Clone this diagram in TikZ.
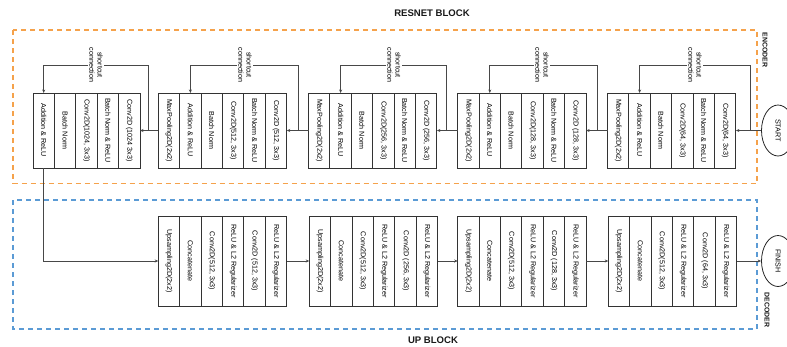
\documentclass[tikz,border=0pt]{standalone}
\usepackage{fontspec}
\usepackage{graphicx}
\setmainfont{Liberation Sans}
\usetikzlibrary{arrows.meta,positioning,shapes.geometric}
\definecolor{encorange}{HTML}{F5A24B}
\definecolor{decblue}{HTML}{5B9BD5}
\definecolor{cellline}{HTML}{333333}
\definecolor{connline}{HTML}{484848}
\newcommand\vtext[1]{\rotatebox{-90}{#1}}
\begin{document}
\begin{tikzpicture}[x=1bp,y=-1bp,
  cellbase/.style={draw=cellline, line width=1bp, inner sep=0pt, outer sep=0pt,
    minimum width=21.4bp, font=\fontsize{7.2}{8.2}\selectfont, text=black},
  ecell/.style={cellbase, minimum height=75bp},
  dcell/.style={cellbase, minimum height=90bp},
  conn/.style={draw=connline, line width=0.75bp},
  arr/.style={conn, -{Stealth[length=3.5bp,width=3bp]}},
  sclabel/.style={inner sep=1.2bp, font=\fontsize{7.2}{8.2}\selectfont, text=black},
  terminal/.style={ellipse, draw=black!85, line width=0.8bp, minimum width=33bp,
    minimum height=51bp, inner sep=0pt, font=\fontsize{7.2}{8.2}\selectfont},
  groupbox/.style={dashed, dash pattern=on 5bp off 4bp, line width=1.1bp},
  title/.style={font=\bfseries\fontsize{9.6}{11}\selectfont, text=black!90},
  sidetitle/.style={font=\bfseries\fontsize{7}{8}\selectfont, text=black!90}]
\useasboundingbox (0,0) rectangle (787,346);

% group frames
\draw[groupbox, draw=encorange] (13,30) rectangle (757,183.3);
\draw[groupbox, draw=decblue] (13,200) rectangle (757,329);
\node[title] (resnet) at (432,13) {RESNET BLOCK};
\node[title] (upblock) at (433,340) {UP BLOCK};
\node[sidetitle] (enc) at (765,50) {\vtext{ENCODER}};
\node[sidetitle] (dec) at (767,310) {\vtext{DECODER}};

% ---------------- encoder ----------------
% block 1
\node[ecell] (e1a) at (43.7,130.5) {\vtext{Addition \& ReLU}};
\node[ecell, right=0pt of e1a] (e1b) {\vtext{Batch Norm}};
\node[ecell, right=0pt of e1b] (e1c) {\vtext{Conv2D(1024, 3x3)}};
\node[ecell, right=0pt of e1c] (e1d) {\vtext{Batch Norm \& ReLU}};
\node[ecell, right=0pt of e1d] (e1e) {\vtext{Conv2D (1024 3x3)}};
% block 2
\node[ecell] (e2a) at (169,130.5) {\vtext{MaxPooling2D(2x2)}};
\node[ecell, right=0pt of e2a] (e2b) {\vtext{Addition \& ReLU}};
\node[ecell, right=0pt of e2b] (e2c) {\vtext{Batch Norm}};
\node[ecell, right=0pt of e2c] (e2d) {\vtext{Conv2D(512, 3x3)}};
\node[ecell, right=0pt of e2d] (e2e) {\vtext{Batch Norm \& ReLU}};
\node[ecell, right=0pt of e2e] (e2f) {\vtext{Conv2D (512, 3x3)}};
% block 3
\node[ecell] (e3a) at (319.2,130.5) {\vtext{MaxPooling2D(2x2)}};
\node[ecell, right=0pt of e3a] (e3b) {\vtext{Addition \& ReLU}};
\node[ecell, right=0pt of e3b] (e3c) {\vtext{Batch Norm}};
\node[ecell, right=0pt of e3c] (e3d) {\vtext{Conv2D(256, 3x3)}};
\node[ecell, right=0pt of e3d] (e3e) {\vtext{Batch Norm \& ReLU}};
\node[ecell, right=0pt of e3e] (e3f) {\vtext{Conv2D (256, 3x3)}};
% block 4
\node[ecell] (e4a) at (468.4,130.5) {\vtext{MaxPooling2D(2x2)}};
\node[ecell, right=0pt of e4a] (e4b) {\vtext{Addition \& ReLU}};
\node[ecell, right=0pt of e4b] (e4c) {\vtext{Batch Norm}};
\node[ecell, right=0pt of e4c] (e4d) {\vtext{Conv2D(128, 3x3)}};
\node[ecell, right=0pt of e4d] (e4e) {\vtext{Batch Norm \& ReLU}};
\node[ecell, right=0pt of e4e] (e4f) {\vtext{Conv2D (128, 3x3)}};
% block 5
\node[ecell] (e5a) at (618.2,130.5) {\vtext{MaxPooling2D(2x2)}};
\node[ecell, right=0pt of e5a] (e5b) {\vtext{Addition \& ReLU}};
\node[ecell, right=0pt of e5b] (e5c) {\vtext{Batch Norm}};
\node[ecell, right=0pt of e5c] (e5d) {\vtext{Conv2D(64, 3x3)}};
\node[ecell, right=0pt of e5d] (e5e) {\vtext{Batch Norm \& ReLU}};
\node[ecell, right=0pt of e5e] (e5f) {\vtext{Conv2D(64, 3x3)}};

\node[terminal] (start) at (778,130.5) {\vtext{START}};

% ---------------- decoder ----------------
% block 1
\node[dcell] (d1a) at (169,261) {\vtext{Upsampling2D(2x2)}};
\node[dcell, right=0pt of d1a] (d1b) {\vtext{Concatenate}};
\node[dcell, right=0pt of d1b] (d1c) {\vtext{Conv2D(512, 3x3)}};
\node[dcell, right=0pt of d1c] (d1d) {\vtext{ReLU \& L2 Regularizer}};
\node[dcell, right=0pt of d1d] (d1e) {\vtext{Conv2D (512, 3x3)}};
\node[dcell, right=0pt of d1e] (d1f) {\vtext{ReLU \& L2 Regularizer}};
% block 2
\node[dcell] (d2a) at (320,261) {\vtext{Upsampling2D(2x2)}};
\node[dcell, right=0pt of d2a] (d2b) {\vtext{Concatenate}};
\node[dcell, right=0pt of d2b] (d2c) {\vtext{Conv2D(512, 3x3)}};
\node[dcell, right=0pt of d2c] (d2d) {\vtext{ReLU \& L2 Regularizer}};
\node[dcell, right=0pt of d2d] (d2e) {\vtext{Conv2D (256, 3x3)}};
\node[dcell, right=0pt of d2e] (d2f) {\vtext{ReLU \& L2 Regularizer}};
% block 3
\node[dcell] (d3a) at (468.4,261) {\vtext{Upsampling2D(2x2)}};
\node[dcell, right=0pt of d3a] (d3b) {\vtext{Concatenate}};
\node[dcell, right=0pt of d3b] (d3c) {\vtext{Conv2D(512, 3x3)}};
\node[dcell, right=0pt of d3c] (d3d) {\vtext{ReLU \& L2 Regularizer}};
\node[dcell, right=0pt of d3d] (d3e) {\vtext{Conv2D (128, 3x3)}};
\node[dcell, right=0pt of d3e] (d3f) {\vtext{ReLU \& L2 Regularizer}};
% block 4
\node[dcell] (d4a) at (619,261) {\vtext{Upsampling2D(2x2)}};
\node[dcell, right=0pt of d4a] (d4b) {\vtext{Concatenate}};
\node[dcell, right=0pt of d4b] (d4c) {\vtext{Conv2D(512, 3x3)}};
\node[dcell, right=0pt of d4c] (d4d) {\vtext{ReLU \& L2 Regularizer}};
\node[dcell, right=0pt of d4d] (d4e) {\vtext{Conv2D (64, 3x3)}};
\node[dcell, right=0pt of d4e] (d4f) {\vtext{ReLU \& L2 Regularizer}};

\node[terminal] (finish) at (778,261) {\vtext{FINISH}};

% ---------------- main flow ----------------
\draw[arr] (start.west) -- (e5f.east |- start.west);
\draw[arr] (e5a.west) -- (e4f.east);
\draw[arr] (e4a.west) -- (e3f.east);
\draw[arr] (e3a.west) -- (e2f.east);
\draw[arr] (e2a.west) -- (e1e.east);
\draw[arr] (e1a.south) |- (d1a.west);
\draw[arr] (d1f.east) -- (d2a.west);
\draw[arr] (d2f.east) -- (d3a.west);
\draw[arr] (d3f.east) -- (d4a.west);
\draw[arr] (d4f.east) -- (finish.west);

% ---------------- shortcut connections ----------------
\coordinate (s1) at (148.8,130.5);
\coordinate (s2) at (298.5,130.5);
\coordinate (s3) at (446.5,130.5);
\coordinate (s4) at (597,130.5);
\coordinate (s5) at (750,130.5);
\node[sclabel] (l1) at (96,65) {\vtext{\shortstack{shortcut\\connection}}};
\node[sclabel] (l2) at (245,65) {\vtext{\shortstack{shortcut\\connection}}};
\node[sclabel] (l3) at (394,65) {\vtext{\shortstack{shortcut\\connection}}};
\node[sclabel] (l4) at (542,65) {\vtext{\shortstack{shortcut\\connection}}};
\node[sclabel] (l5) at (695,65) {\vtext{\shortstack{shortcut\\connection}}};
\foreach \i/\c in {1/e1a,2/e2b,3/e3b,4/e4b,5/e5b}{
  \draw[conn] (s\i) |- (l\i);
  \draw[arr] (l\i) -| (\c.north);
}
\end{tikzpicture}
\end{document}
